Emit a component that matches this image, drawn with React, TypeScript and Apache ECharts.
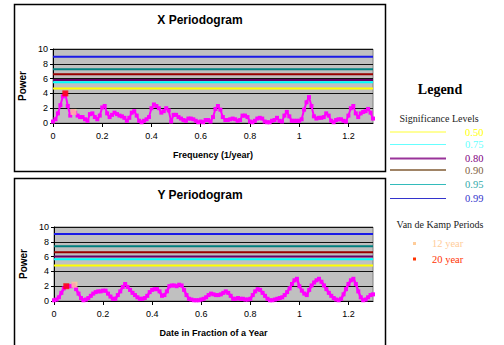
import React, { useEffect, useRef } from "react";
import * as echarts from "echarts";

// Frequency grid (1/year), one point every 0.01
const freqStep = 0.01;

const xPower = [
  0.2, 0.5, 1.3, 2.4, 3.6, 4.0, 2.3, 1.0, 1.6, 1.4,
  1.0, 0.8, 0.8, 0.5, 0.3, 1.2, 1.3, 0.8, 0.5, 1.0,
  2.1, 2.3, 1.3, 0.8, 1.1, 1.4, 1.2, 1.0, 0.9, 0.7,
  0.3, 0.7, 1.4, 1.6, 1.0, 0.3, 0.1, 0.3, 0.5, 0.8,
  2.0, 2.5, 2.3, 2.0, 1.4, 1.6, 2.0, 1.7, 0.2, 1.1,
  1.1, 0.8, 0.6, 0.4, 0.3, 0.6, 0.6, 0.5, 0.3, 0.1,
  0.2, 0.1, 0.4, 0.4, 0.2, 0.8, 1.9, 2.3, 1.8, 0.8,
  0.4, 0.4, 0.5, 0.6, 0.5, 0.3, 0.4, 1.0, 1.0, 0.8,
  0.2, 0.1, 0.3, 0.6, 0.7, 0.6, 0.2, 0.1, 0.1, 0.3,
  0.4, 0.7, 0.3, 0.2, 1.0, 1.5, 0.9, 0.3, 0.3, 0.3,
  0.3, 0.5, 1.8, 2.8, 3.5, 2.3, 0.9, 0.6, 0.7, 0.7,
  0.8, 1.3, 1.0, 0.3, 0.1, 0.4, 0.5, 0.5, 0.3, 0.2,
  1.0, 2.0, 2.3, 1.3, 0.8, 1.3, 1.5, 1.6, 1.9, 1.4,
  0.6,
];

const yPower = [
  0.1, 0.2, 0.5, 1.1, 1.7, 2.0, 2.0, 2.0, 2.2, 1.6,
  1.0, 0.4, 0.1, 0.2, 0.4, 0.7, 1.0, 1.2, 1.3, 1.3,
  1.4, 1.4, 1.0, 0.6, 0.3, 0.3, 0.8, 1.3, 1.9, 2.3,
  1.9, 1.5, 1.1, 0.8, 0.5, 0.3, 0.3, 0.4, 0.7, 1.2,
  1.5, 1.6, 1.6, 1.3, 0.7, 0.8, 1.3, 2.0, 2.1, 2.1,
  2.0, 2.2, 2.1, 1.5, 0.8, 0.3, 0.2, 0.1, 0.1, 0.1,
  0.2, 0.3, 0.5, 0.8, 1.0, 0.9, 0.8, 0.8, 0.9, 1.1,
  1.3, 1.1, 0.7, 0.3, 0.3, 0.4, 0.3, 0.3, 0.2, 0.2,
  0.3, 0.8, 1.3, 1.6, 1.5, 1.1, 0.7, 0.3, 0.1, 0.1,
  0.2, 0.3, 0.4, 0.5, 0.8, 1.2, 1.7, 2.3, 2.8, 3.0,
  2.0, 1.4, 1.0, 0.8, 1.5, 2.1, 2.5, 2.8, 3.0, 2.6,
  2.1, 1.6, 1.1, 0.7, 0.4, 0.2, 0.1, 0.3, 0.9, 1.6,
  2.3, 2.8, 3.0, 2.3, 1.3, 0.5, 0.1, 0.2, 0.5, 0.8,
  0.9,
];

// Significance levels
const sigLabels = ["0.50", "0.75", "0.80", "0.90", "0.95", "0.99"];
const sigX = [4.65, 5.5, 5.8, 6.6, 7.25, 8.95];
const sigY = [4.8, 5.65, 6.0, 6.6, 7.4, 9.05];
const sigChartColors = ["#FFFF00", "#00FFFF", "#660066", "#990000", "#008080", "#1A1AE6"];
const sigLegendColors = ["#FFFF33", "#66FFFF", "#993399", "#A08466", "#33BBBB", "#3333CC"];
const sigTextColors = ["#FFFF00", "#66FFFF", "#800080", "#806040", "#33AAAA", "#3333CC"];

// Van de Kamp periods
const vdkLabels = ["12 year", "20 year"];
const vdkFreq = [1 / 12, 1 / 20];
const vdkXPower = [1.5, 4.0];
const vdkYPower = [2.2, 2.0];
const vdkColors = ["#FFCC99", "#FF0000"];
const vdkTextColors = ["#FFCC99", "#FF3300"];

const xMax = 1.3;
const FONT = "Arial, 'Liberation Sans', sans-serif";
const SERIF = "'Times New Roman', 'Liberation Serif', serif";

export default function App() {
  const ref = useRef<HTMLDivElement>(null);
  useEffect(() => {
    if (!ref.current) return;
    const chart = echarts.init(ref.current, undefined, { renderer: "svg" });

    const grids = [
      { left: 53, top: 49, width: 320, height: 74 },
      { left: 54, top: 227, width: 319, height: 74 },
    ];
    const xNames = ["Frequency (1/year)", "Date in Fraction of a Year"];

    const xAxes = grids.map((_, gi) => ({
      type: "value",
      gridIndex: gi,
      min: 0,
      max: xMax,
      interval: 0.2,
      name: xNames[gi],
      nameLocation: "middle",
      nameGap: 27,
      nameTextStyle: { fontFamily: FONT, fontSize: 9, fontWeight: "bold", color: "#000" },
      axisLine: { show: true, onZero: false, lineStyle: { color: "#000", width: 1 } },
      axisTick: { show: true, inside: false, length: 4, lineStyle: { color: "#000" } },
      axisLabel: { fontFamily: FONT, fontSize: 9, color: "#000", margin: 8, showMaxLabel: false },
      splitLine: { show: false },
    }));
    const yAxes = grids.map((_, gi) => ({
      type: "value",
      gridIndex: gi,
      min: 0,
      max: 10,
      interval: 2,
      name: "Power",
      nameLocation: "middle",
      nameRotate: 90,
      nameGap: 20,
      nameTextStyle: { fontFamily: FONT, fontSize: 10, fontWeight: "bold", color: "#000" },
      axisLine: { show: true, lineStyle: { color: "#000", width: 1 } },
      axisTick: { show: true, inside: false, length: 3, lineStyle: { color: "#000" } },
      axisLabel: { fontFamily: FONT, fontSize: 9, color: "#000", margin: 5 },
      splitLine: { show: true, lineStyle: { color: "#111", width: 1 } },
    }));

    const series: any[] = [];
    [sigX, sigY].forEach((sig, gi) => {
      sig.forEach((v, k) => {
        series.push({
          type: "line",
          xAxisIndex: gi,
          yAxisIndex: gi,
          data: [[0, v], [xMax, v]],
          showSymbol: false,
          symbol: "none",
          lineStyle: { color: sigChartColors[k], width: 2 },
          z: 2,
        });
      });
    });
    [xPower, yPower].forEach((arr, gi) => {
      series.push({
        type: "line",
        xAxisIndex: gi,
        yAxisIndex: gi,
        data: arr.map((v, i) => [i * freqStep, v]),
        symbol: "rect",
        symbolSize: 4,
        showAllSymbol: true,
        lineStyle: { color: "#FF00FF", width: gi === 0 ? 2 : 2.5 },
        itemStyle: { color: "#FF00FF" },
        z: 3,
      });
    });
    [vdkXPower, vdkYPower].forEach((arr, gi) => {
      arr.forEach((v, k) => {
        series.push({
          type: "scatter",
          xAxisIndex: gi,
          yAxisIndex: gi,
          data: [[vdkFreq[k], v]],
          symbol: "rect",
          symbolSize: 6,
          itemStyle: { color: vdkColors[k] },
          z: 5,
        });
      });
    });

    const legendX = 390;
    const graphic: any[] = [
      { type: "rect", shape: { x: 14.5, y: 4.5, width: 371, height: 167 }, style: { fill: "none", stroke: "#000", lineWidth: 1.5 }, silent: true },
      { type: "rect", shape: { x: 14.5, y: 178.5, width: 371, height: 180 }, style: { fill: "none", stroke: "#000", lineWidth: 1.5 }, silent: true },
      { type: "text", x: 200, y: 20, style: { text: "X Periodogram", fontFamily: FONT, fontSize: 12, fontWeight: "bold", fill: "#000", textAlign: "center", textVerticalAlign: "middle" } },
      { type: "text", x: 200, y: 195, style: { text: "Y Periodogram", fontFamily: FONT, fontSize: 12, fontWeight: "bold", fill: "#000", textAlign: "center", textVerticalAlign: "middle" } },
      { type: "text", x: 440, y: 89, style: { text: "Legend", fontFamily: SERIF, fontSize: 14, fontWeight: "bold", fill: "#000", textAlign: "center", textVerticalAlign: "middle" } },
      { type: "text", x: 439, y: 118, style: { text: "Significance Levels", fontFamily: SERIF, fontSize: 10, fill: "#222", textAlign: "center", textVerticalAlign: "middle" } },
      { type: "text", x: 440, y: 224, style: { text: "Van de Kamp Periods", fontFamily: SERIF, fontSize: 10, fill: "#222", textAlign: "center", textVerticalAlign: "middle" } },
    ];
    const legendYs = [132, 144.5, 158.5, 170, 184.5, 198.5];
    sigLabels.forEach((lab, k) => {
      graphic.push({
        type: "line",
        shape: { x1: legendX, y1: legendYs[k], x2: 446, y2: legendYs[k] },
        style: { stroke: sigLegendColors[k], lineWidth: k === 2 || k === 3 ? 2 : 1 },
      });
      graphic.push({
        type: "text",
        x: 465,
        y: legendYs[k],
        style: { text: lab, fontFamily: SERIF, fontSize: 10.5, fill: sigTextColors[k], textAlign: "left", textVerticalAlign: "middle" },
      });
    });
    const vdkYs = [243.5, 259];
    vdkLabels.forEach((lab, k) => {
      graphic.push({
        type: "rect",
        shape: { x: 413, y: vdkYs[k] - 1.5, width: 3, height: 3 },
        style: { fill: vdkTextColors[k] },
      });
      graphic.push({
        type: "text",
        x: 432,
        y: vdkYs[k],
        style: { text: lab, fontFamily: SERIF, fontSize: 10.5, fill: vdkTextColors[k], textAlign: "left", textVerticalAlign: "middle" },
      });
    });

    chart.setOption({
      animation: false,
      backgroundColor: "#fff",
      grid: grids.map((g) => ({ ...g, show: true, backgroundColor: "#C0C0C0", borderColor: "#808080", borderWidth: 1 })),
      xAxis: xAxes,
      yAxis: yAxes,
      series,
      graphic,
    });
    return () => chart.dispose();
  }, []);

  return (
    <div
      ref={ref}
      style={{ position: "fixed", left: 0, top: 0, width: 504, height: 345, background: "#fff" }}
    />
  );
}
